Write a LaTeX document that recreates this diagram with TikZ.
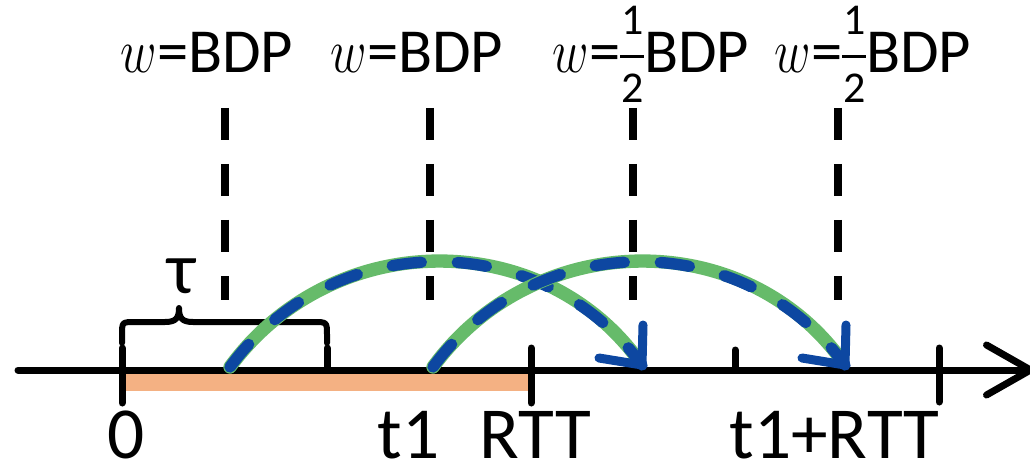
\RequirePackage{fix-cm}
\documentclass[tikz,border=0pt]{standalone}
\usepackage{fontspec}
\setmainfont{Carlito}
\usetikzlibrary{arrows.meta,calc}
\definecolor{arcgreen}{RGB}{102,187,106}
\definecolor{arcblue}{RGB}{13,71,161}
\definecolor{barorange}{RGB}{244,177,131}
\newcommand{\myhalf}{%
  \makebox[18pt]{%
    \makebox[0pt]{\raisebox{28.5pt}{\fontsize{33}{33}\selectfont 1}}%
    \makebox[0pt]{\rule[11pt]{18pt}{2.2pt}}%
    \makebox[0pt]{\raisebox{-22.5pt}{\fontsize{33}{33}\selectfont 2}}}}
\newcommand{\wvar}{\scalebox{0.8}[1]{$w$}}
\begin{document}
\begin{tikzpicture}[x=0.75pt,y=-0.75pt,
  axisline/.style={line width=5.25pt,line cap=round,
    -{Straight Barb[length=33pt,width=37.5pt,round]}},
  tickmark/.style={line width=5.25pt,line cap=round},
  guide/.style={line width=6pt,dash pattern=on 24pt off 18pt},
  bracepath/.style={line width=4.5pt,line cap=round,line join=round},
  greenarc/.style={arcgreen,line width=10pt,line cap=round,shorten >=5pt},
  bluearc/.style={arcblue,line width=8.5pt,line cap=round,
    dash pattern=on 22pt off 27pt},
  bluehead/.style={arcblue,line width=6.75pt,line cap=round,line join=round},
  toplabel/.style={inner sep=0pt,anchor=base,font=\fontsize{47}{56}\selectfont},
  botlabel/.style={inner sep=0pt,anchor=base,text depth=0pt,
    font=\fontsize{55}{66}\selectfont}]
\useasboundingbox (0,0) rectangle (1030,463);

% orange interval
\fill[barorange] (122,372) rectangle (531,391);

% axis and ticks
\coordinate (axl) at (18,370);
\coordinate (axr) at (1034,370);
\draw[axisline] (axl) -- (axr);
\draw[tickmark] (122,348) -- (122,403);
\draw[tickmark] (327,348) -- (327,370);
\draw[tickmark] (531,348) -- (531,403);
\draw[tickmark] (735,350) -- (735,370);
\draw[tickmark] (939,348) -- (939,402);

% vertical dashed guides
\draw[guide] (225,108) -- (225,300);
\draw[guide] (430,108) -- (430,300);
\draw[guide] (633,108) -- (633,300);
\draw[guide] (838,108) -- (838,300);

% brace
\draw[bracepath] (122,343) -- (122,335) .. controls (122,322) .. (135,322)
  -- (165,322) .. controls (176,322) and (179,318) .. (179,308)
  .. controls (179,318) and (182,322) .. (193,322)
  -- (313,322) .. controls (327,322) .. (327,335) -- (327,343);
\node[botlabel] (tau) at (181.5,293) {τ};

% arcs
\coordinate (s1) at (230,367);
\coordinate (e1) at (642,365);
\coordinate (s2) at (433,367);
\coordinate (e2) at (845,365);
\draw[greenarc] (s1) .. controls +(102,-139) and +(-102,-139) .. (e1);
\draw[bluearc] (s1) .. controls +(102,-139) and +(-102,-139) .. (e1);
\draw[bluehead] ($(e1)+(-43,-7)$) -- (e1) -- ($(e1)+(1,-40)$);
\draw[greenarc] (s2) .. controls +(102,-139) and +(-102,-139) .. (e2);
\draw[bluearc] (s2) .. controls +(102,-139) and +(-102,-139) .. (e2);
\draw[bluehead] ($(e2)+(-43,-7)$) -- (e2) -- ($(e2)+(1,-40)$);

% top labels
\node[toplabel] (w1) at (207,73) {\wvar=BDP};
\node[toplabel] (w2) at (417,73) {\wvar=BDP};
\node[toplabel] (w3) at (651,73) {\wvar=\myhalf BDP};
\node[toplabel] (w4) at (873,73) {\wvar=\myhalf BDP};

% bottom labels
\node[botlabel] (n0) at (126,458) {0};
\node[botlabel] (nt1) at (408.5,458) {t1};
\node[botlabel] (nrtt) at (535.5,458) {RTT};
\node[botlabel] (nt1rtt) at (834.5,458) {t1+RTT};
\end{tikzpicture}
\end{document}
